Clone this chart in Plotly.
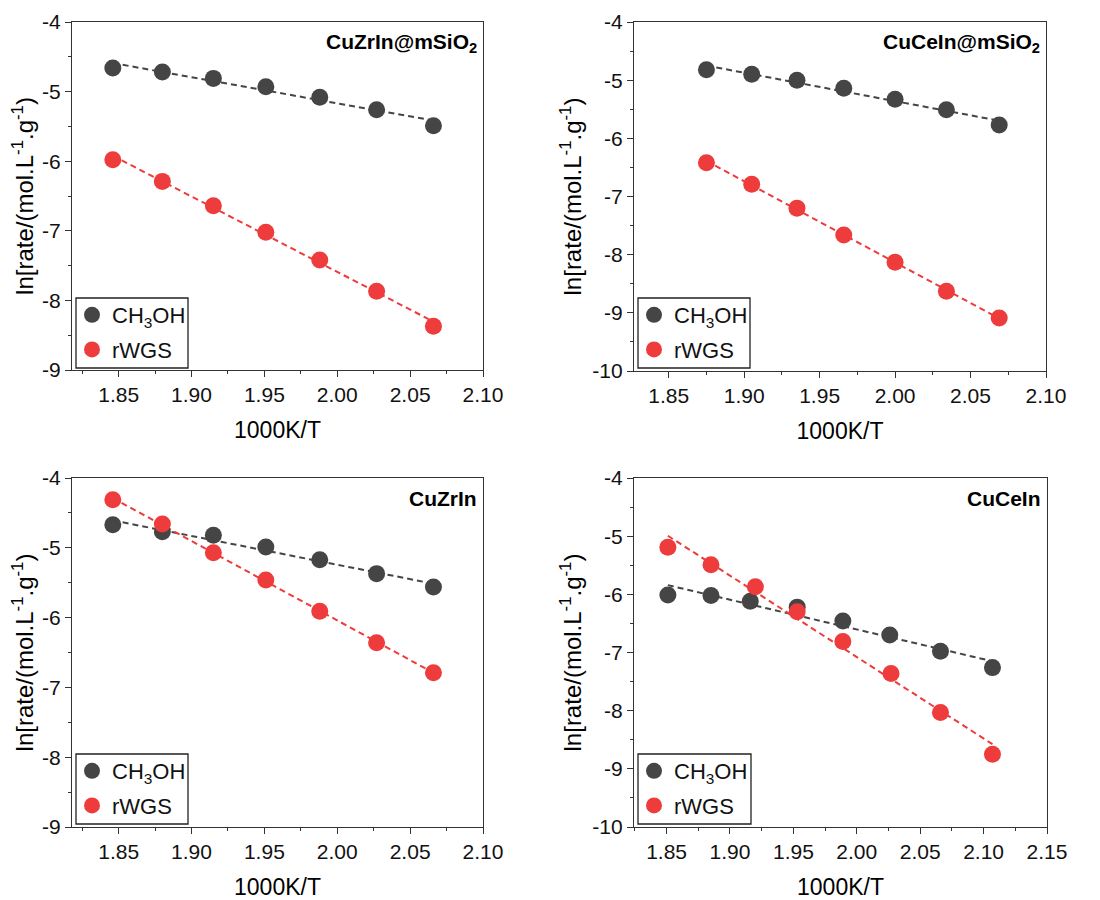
import numpy as np
import plotly.graph_objects as go

# ---------------- data ----------------
# Panel 1: CuZrIn@mSiO2
p1_x = [1.846, 1.880, 1.915, 1.951, 1.988, 2.027, 2.066]
p1_meoh = [-4.66, -4.72, -4.81, -4.93, -5.08, -5.26, -5.49]
p1_rwgs = [-5.98, -6.29, -6.64, -7.02, -7.42, -7.87, -8.37]

# Panel 2: CuCeIn@mSiO2
p2_x = [1.875, 1.905, 1.935, 1.966, 2.000, 2.034, 2.069]
p2_meoh = [-4.82, -4.90, -5.00, -5.14, -5.33, -5.51, -5.77]
p2_rwgs = [-6.42, -6.79, -7.20, -7.66, -8.13, -8.63, -9.09]

# Panel 3: CuZrIn
p3_x = [1.846, 1.880, 1.915, 1.951, 1.988, 2.027, 2.066]
p3_meoh = [-4.67, -4.77, -4.82, -4.99, -5.17, -5.37, -5.56]
p3_rwgs = [-4.31, -4.66, -5.07, -5.46, -5.91, -6.36, -6.79]

# Panel 4: CuCeIn
p4_x_meoh = [1.851, 1.885, 1.916, 1.953, 1.989, 2.026, 2.066, 2.107]
p4_meoh = [-6.01, -6.02, -6.12, -6.22, -6.46, -6.70, -6.98, -7.26]
p4_x_rwgs = [1.851, 1.885, 1.920, 1.953, 1.989, 2.027, 2.066, 2.107]
p4_rwgs = [-5.19, -5.49, -5.87, -6.30, -6.81, -7.36, -8.03, -8.75]

panel_titles = ["CuZrIn@mSiO<sub>2</sub>", "CuCeIn@mSiO<sub>2</sub>", "CuZrIn", "CuCeIn"]
series_names = ["CH<sub>3</sub>OH", "rWGS"]
x_title = "1000K/T"
y_title = "ln[rate/(mol.L<sup>-1</sup>.g<sup>-1</sup>)"

x_ticks_a = [1.85, 1.90, 1.95, 2.00, 2.05, 2.10]
x_ticks_b = [1.85, 1.90, 1.95, 2.00, 2.05, 2.10, 2.15]
y_ticks_a = [-9, -8, -7, -6, -5, -4]
y_ticks_b = [-10, -9, -8, -7, -6, -5, -4]

x_ranges = [[1.818, 2.10], [1.827, 2.10], [1.818, 2.10], [1.8243, 2.15]]
y_ranges = [[-9, -4], [-10, -4], [-9, -4], [-10, -4]]
x_ticks = [x_ticks_a, x_ticks_a, x_ticks_a, x_ticks_b]
y_ticks = [y_ticks_a, y_ticks_b, y_ticks_a, y_ticks_b]

# ---------------- style ----------------
FONT = "Arial, Liberation Sans, sans-serif"
GRAY = "#454545"
RED = "#ee3b3b"
OFF = 8                      # page body margin of the html page
W, H = 1100 - OFF, 900 - OFF

# panel pixel boxes in the page (left, right, top, bottom)
boxes = [(72, 483, 22, 370), (634, 1046, 22, 371), (72, 483, 478, 827), (634, 1047, 478, 827)]
# legend frame boxes in the page (left, right, top, bottom)
legend_boxes = [(76, 188, 298, 368), (638, 750, 298, 368), (76, 188, 754, 824), (638, 751, 754, 824)]

panels = [
    (p1_x, p1_meoh, p1_x, p1_rwgs),
    (p2_x, p2_meoh, p2_x, p2_rwgs),
    (p3_x, p3_meoh, p3_x, p3_rwgs),
    (p4_x_meoh, p4_meoh, p4_x_rwgs, p4_rwgs),
]

fig = go.Figure()
layout = dict(
    width=W, height=H,
    margin=dict(l=0, r=0, t=0, b=0, autoexpand=False),
    paper_bgcolor="white", plot_bgcolor="white",
    font=dict(family=FONT, color="black"),
    showlegend=True,
    annotations=[],
    shapes=[],
)

for i, (xm, ym, xr, yr) in enumerate(panels):
    k = "" if i == 0 else str(i + 1)
    xa, ya = "x" + k, "y" + k
    leg = "legend" + k
    for xs, ys, col, name in [(xm, ym, GRAY, series_names[0]), (xr, yr, RED, series_names[1])]:
        slope, icpt = np.polyfit(xs, ys, 1)
        xf = np.array([min(xs), max(xs)])
        fig.add_trace(go.Scatter(
            x=xf, y=slope * xf + icpt, mode="lines",
            line=dict(color=col, width=2, dash="6px,4px"),
            xaxis=xa, yaxis=ya, showlegend=False, hoverinfo="skip"))
    for xs, ys, col, name in [(xm, ym, GRAY, series_names[0]), (xr, yr, RED, series_names[1])]:
        fig.add_trace(go.Scatter(
            x=xs, y=ys, mode="markers", name=name,
            marker=dict(color=col, size=17, line=dict(width=0)),
            xaxis=xa, yaxis=ya, legend=leg, legendgroup=f"{i}{name}"))

    l, r, t, b = [v - OFF for v in boxes[i]]
    axis_common = dict(
        showline=True, linecolor="#333333", linewidth=1.3, mirror=True,
        ticks="outside", ticklen=6, tickwidth=1.2, tickcolor="#333333",
        showgrid=False, zeroline=False, automargin=False,
        tickfont=dict(size=21, family=FONT, color="#111111"),
    )
    layout["xaxis" + k] = dict(
        axis_common, domain=[l / W, r / W], anchor=ya, range=x_ranges[i],
        tickmode="array", tickvals=x_ticks[i], ticktext=[f"{v:.2f}" for v in x_ticks[i]],
        minor=dict(ticks="outside", ticklen=3, tickwidth=1, tickcolor="#333333", dtick=0.025, tick0=1.85),
        title=dict(text=x_title, font=dict(size=23, family=FONT), standoff=16),
    )
    layout["yaxis" + k] = dict(
        axis_common, domain=[1 - b / H, 1 - t / H], anchor=xa, range=y_ranges[i],
        tickmode="array", tickvals=y_ticks[i], ticktext=[str(v) for v in y_ticks[i]],
        minor=dict(ticks="outside", ticklen=3, tickwidth=1, tickcolor="#333333", dtick=0.5, tick0=-10),
        title=dict(text=y_title, font=dict(size=24, family=FONT), standoff=3),
    )
    # legend frame drawn as a rectangle, legend itself without border
    bl, br, bt, bb = [v - OFF for v in legend_boxes[i]]
    layout["shapes"].append(dict(
        type="rect", xref="paper", yref="paper",
        x0=bl / W, x1=br / W, y0=1 - bb / H, y1=1 - bt / H,
        line=dict(color="#222222", width=1.3), fillcolor="white", layer="above",
    ))
    layout[leg] = dict(
        x=(bl - 4) / W, y=1 - (bt - 4) / H, xanchor="left", yanchor="top",
        xref="paper", yref="paper",
        bgcolor="rgba(0,0,0,0)", borderwidth=0,
        font=dict(size=22, family=FONT, color="#111111"),
        traceorder="grouped", tracegroupgap=3, itemwidth=30,
    )
    layout["annotations"].append(dict(
        text=panel_titles[i], xref=xa + " domain", yref=ya + " domain",
        x=0.99, y=0.94, xanchor="right", yanchor="middle", showarrow=False,
        font=dict(size=21, family=FONT, color="black", weight="bold"),
    ))

fig.update_layout(**layout)
fig.write_html("out.html")
